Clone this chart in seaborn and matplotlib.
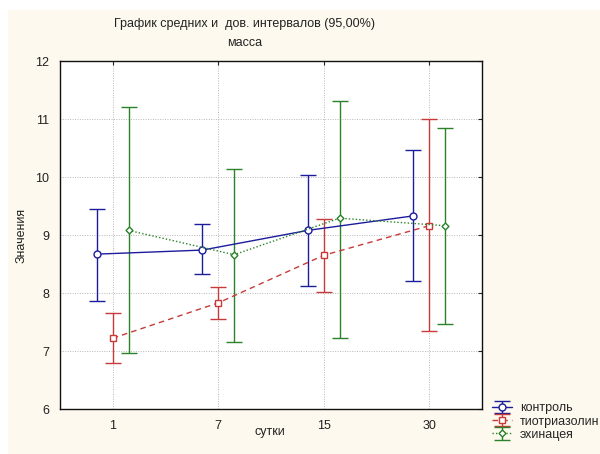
import numpy as np
import pandas as pd
import matplotlib
matplotlib.use("Agg")
import matplotlib.pyplot as plt
from matplotlib.patches import Rectangle
import seaborn as sns

days = ["1", "7", "15", "30"]
groups = ["контроль", "тиотриазолин", "эхинацея"]

control_mean = [8.67, 8.74, 9.08, 9.33]
control_low = [7.87, 8.32, 8.12, 8.20]
control_high = [9.45, 9.19, 10.04, 10.47]

tio_mean = [7.22, 7.83, 8.65, 9.16]
tio_low = [6.80, 7.56, 8.02, 7.34]
tio_high = [7.65, 8.10, 9.27, 11.00]

echin_mean = [9.08, 8.66, 9.29, 9.16]
echin_low = [6.97, 7.15, 7.22, 7.47]
echin_high = [11.21, 10.14, 11.31, 10.85]

rows = []
series = [(control_mean, control_low, control_high),
          (tio_mean, tio_low, tio_high),
          (echin_mean, echin_low, echin_high)]
for g, (m, lo, hi) in zip(groups, series):
    for d, mv, lv, hv in zip(days, m, lo, hi):
        rows.append({"group": g, "day": d, "mean": mv, "low": lv, "high": hv})
df = pd.DataFrame(rows)

offsets = {"контроль": -0.15, "тиотриазолин": 0.0, "эхинацея": 0.15}
df["xpos"] = df["day"].map({d: i for i, d in enumerate(days)}) + df["group"].map(offsets)

colors = {"контроль": "#1c1c9c", "тиотриазолин": "#c83a3a", "эхинацея": "#2a822a"}
dashes = {"контроль": "", "тиотриазолин": (4, 3), "эхинацея": (1, 1.5)}
markers = {"контроль": "o", "тиотриазолин": "s", "эхинацея": "D"}
msize = {"контроль": 5, "тиотриазолин": 5, "эхинацея": 3.5}

sns.set_theme(style="white")
plt.rcParams["font.family"] = ["Liberation Sans", "DejaVu Sans"]

fig = plt.figure(figsize=(6, 4.54), dpi=100)
fig.patch.set_facecolor("white")
fig.patches.append(Rectangle((8 / 600, 0), 1, 1 - 10 / 454, transform=fig.transFigure,
                             facecolor="#fdf9ee", edgecolor="none", zorder=-10))

ax = fig.add_axes([60 / 600, 1 - 409 / 454, 422 / 600, 348 / 454])
ax.set_facecolor("white")

# interval bars
handles = []
for g in groups:
    sub = df[df["group"] == g]
    eb = ax.errorbar(sub["xpos"], sub["mean"],
                     yerr=[sub["mean"] - sub["low"], sub["high"] - sub["mean"]],
                     fmt="none", ecolor=colors[g], elinewidth=1.0, capsize=6,
                     capthick=1.0, zorder=2)
    handles.append(eb)

# mean lines
sns.lineplot(data=df, x="xpos", y="mean", hue="group", style="group",
             palette=colors, dashes=dashes, markers=markers, legend=False,
             linewidth=1.0, markerfacecolor="white", markeredgewidth=1.0,
             ax=ax, zorder=3)
for line, g in zip(ax.get_lines()[-3:], groups):
    line.set_markersize(msize[g])
    line.set_markeredgecolor(colors[g])

ax.set_xlim(-0.5, 3.5)
ax.set_ylim(6, 12)
ax.set_xticks(range(len(days)))
ax.set_xticklabels(days)
ax.set_yticks(range(6, 13))
ax.set_xlabel("")
ax.set_ylabel("")
ax.tick_params(axis="both", labelsize=9, direction="in", length=3, width=0.8,
               colors="#222222", top=True, right=True, pad=8)
ax.grid(True, linestyle=(0, (1, 1.5)), color="#b8b8b8", linewidth=0.7)
for s in ax.spines.values():
    s.set_color("#111111")
    s.set_linewidth(1.0)

fig.text(245 / 600, 1 - 24 / 454, "График средних и  дов. интервалов (95,00%)",
         ha="center", va="center", fontsize=9, color="#222222")
fig.text(245 / 600, 1 - 43 / 454, "масса", ha="center", va="center",
         fontsize=9, color="#222222")
fig.text(22 / 600, 1 - 235 / 454, "Значения", rotation=90, ha="center",
         va="center", fontsize=9, color="#222222")
fig.text(270 / 600, 1 - 432 / 454, "сутки", ha="center", va="center",
         fontsize=9, color="#222222")

lines = ax.get_lines()[-3:]
leg = fig.legend([(h, l) for h, l in zip(handles, lines)], groups,
                 loc="upper left", bbox_to_anchor=(486 / 600, 1 - 396 / 454),
                 frameon=False, fontsize=9, handlelength=1.6, labelspacing=0.1,
                 handletextpad=0.6, borderpad=0)

fig.savefig("out.png", dpi=100)
